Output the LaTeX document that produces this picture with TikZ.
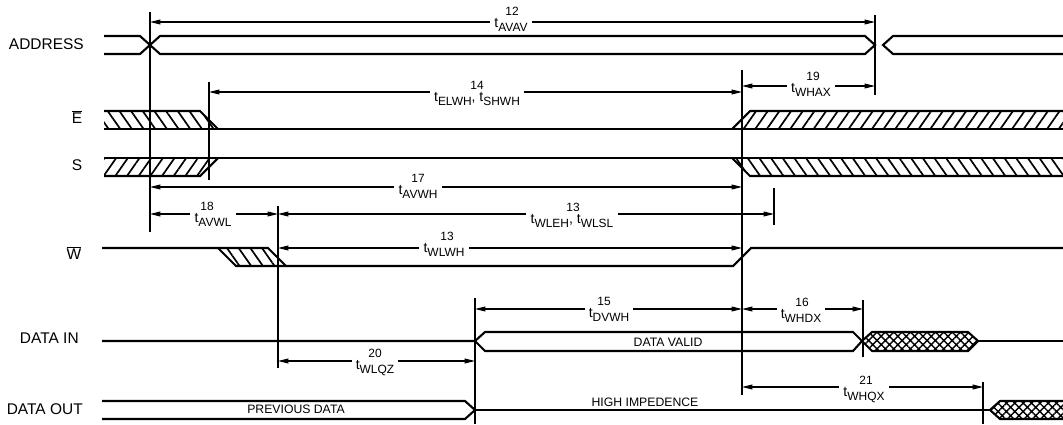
\documentclass[tikz,border=0pt]{standalone}
\usepackage{fontspec}
\setmainfont{Liberation Sans}
\usetikzlibrary{arrows.meta,patterns.meta}
\newcommand{\tsub}[1]{t\raisebox{-3pt}{\fontsize{8.5}{9}\selectfont #1}}
\tikzset{
  sig/.style={line width=1.5pt},
  refl/.style={line width=0.75pt},
  dimarr/.style={<->,>={Triangle[length=2.6mm,width=1.2mm]},line width=0.75pt},
  tlbl/.style={fill=white,inner xsep=3pt,inner ysep=0.5pt,anchor=base,font=\fontsize{10}{11}\selectfont},
  tnum/.style={inner sep=0pt,anchor=base,font=\fontsize{8.5}{9}\selectfont},
  signame/.style={inner sep=0pt,font=\fontsize{11}{12}\selectfont},
  buslbl/.style={inner sep=0pt,font=\fontsize{8.7}{10}\selectfont},
  hatchup/.style={pattern={Lines[angle=55,distance=6.8pt,line width=1.2pt]}},
  hatchdn/.style={pattern={Lines[angle=-55,distance=6.8pt,line width=1.2pt]}},
  xhatch/.style={pattern={Hatch[angle=45,distance=4.2pt,line width=1pt]}}
}

\begin{document}
\begin{tikzpicture}[x=0.025cm,y=-0.025cm]
  \useasboundingbox (0,0) rectangle (1063,424);

  % time instants
  \coordinate (xA)  at (150,0);
  \coordinate (xE)  at (209,0);
  \coordinate (xWL) at (278,0);
  \coordinate (xDV) at (475,0);
  \coordinate (xWH) at (742,0);
  \coordinate (xEH) at (774,0);
  \coordinate (xDX) at (863,0);
  \coordinate (xAX) at (875,0);
  \coordinate (xQX) at (983,0);
  % dimension line levels
  \coordinate (d12) at (0,22);
  \coordinate (d19) at (0,86);
  \coordinate (d14) at (0,92);
  \coordinate (d17) at (0,187);
  \coordinate (d18) at (0,214);
  \coordinate (d13) at (0,248);
  \coordinate (d15) at (0,309);
  \coordinate (d20) at (0,361);
  \coordinate (d21) at (0,387);

  % signal names
  \node[signame,anchor=east] (address) at (84,44) {ADDRESS};
  \node[signame] (ebar) at (77,117) {$\overline{\mbox{E}}$};
  \node[signame] (sel) at (77,165) {S};
  \node[signame] (wbar) at (74,253) {$\overline{\mbox{W}}$};
  \node[signame,anchor=east] (datain) at (79,338) {DATA IN};
  \node[signame,anchor=east] (dataout) at (83,409) {DATA OUT};

  % ADDRESS
  \draw[sig] (104,36) -- (140,36) -- (160,54) -- (865,54) -- (875,45) -- (865,36) -- (160,36) -- (140,54) -- (104,54);
  \draw[sig] (1063,36) -- (893,36) -- (883,45) -- (893,54) -- (1063,54);

  % E bar
  \fill[hatchdn] (104,111) -- (200,111) -- (218,129) -- (104,129) -- cycle;
  \fill[hatchup] (732,129) -- (750,111) -- (1063,111) -- (1063,129) -- cycle;
  \draw[sig] (104,111) -- (200,111) -- (218,129);
  \draw[sig] (104,129) -- (1063,129);
  \draw[sig] (732,129) -- (750,111) -- (1063,111);

  % S
  \fill[hatchup] (104,158) -- (218,158) -- (200,176) -- (104,176) -- cycle;
  \fill[hatchdn] (732,158) -- (1063,158) -- (1063,176) -- (750,176) -- cycle;
  \draw[sig] (104,158) -- (1063,158);
  \draw[sig] (104,176) -- (200,176) -- (218,158);
  \draw[sig] (732,158) -- (750,176) -- (1063,176);

  % W bar
  \fill[hatchdn] (218,248) -- (268,248) -- (286,266) -- (236,266) -- cycle;
  \draw[sig] (102,248) -- (268,248) -- (286,266);
  \draw[sig] (218,248) -- (236,266) -- (733,266) -- (751,248) -- (1063,248);

  % DATA IN
  \draw[sig] (102,341) -- (475,341) -- (485,332) -- (853,332) -- (862,341) -- (853,351) -- (485,351) -- (475,341);
  \draw[sig,xhatch] (862,341) -- (872,332) -- (968,332) -- (978,341) -- (968,351) -- (872,351) -- cycle;
  \draw[sig] (978,341) -- (1063,341);
  \node[buslbl] (valid) at (668,342) {DATA VALID};

  % DATA OUT
  \draw[sig] (102,401) -- (465,401) -- (475,410) -- (465,419) -- (102,419);
  \draw[sig] (475,410) -- (990,410);
  \draw[sig,xhatch] (1063,401) -- (1000,401) -- (990,410) -- (1000,419) -- (1063,419);
  \node[buslbl] (prev) at (296,409) {PREVIOUS DATA};
  \node[buslbl] (hiz) at (645,402) {HIGH IMPEDENCE};

  % reference lines
  \draw[refl] (xA)  ++(0,12)  -- ++(0,220);
  \draw[refl] (xE)  ++(0,82)  -- ++(0,98);
  \draw[refl] (xAX) ++(0,15)  -- ++(0,80);
  \draw[refl] (xWH) ++(0,70)  -- ++(0,325);
  \draw[refl] (xWL) ++(0,206) -- ++(0,162);
  \draw[refl] (xEH) ++(0,188) -- ++(0,37);
  \draw[refl] (xDV) ++(0,298) -- ++(0,126);
  \draw[refl] (xDX) ++(0,300) -- ++(0,57);
  \draw[refl] (xQX) ++(0,382) -- ++(0,42);

  % timing arrows
  \draw[dimarr] (xA |- d12) -- (xAX |- d12);
  \draw[dimarr] (xE |- d14) -- (xWH |- d14);
  \draw[dimarr] (xWH |- d19) -- (xAX |- d19);
  \draw[dimarr] (xA |- d17) -- (xWH |- d17);
  \draw[dimarr] (xA |- d18) -- (xWL |- d18);
  \draw[dimarr] (xWL |- d18) -- (xEH |- d18);
  \draw[dimarr] (xWL |- d13) -- (xWH |- d13);
  \draw[dimarr] (xDV |- d15) -- (xWH |- d15);
  \draw[dimarr] (xWH |- d15) -- (xDX |- d15);
  \draw[dimarr] (xWL |- d20) -- (xDV |- d20);
  \draw[dimarr] (xWH |- d21) -- (xQX |- d21);

  % timing labels
  \node[tlbl] (l12) at (511,27) {\tsub{AVAV}};
  \node[tnum] (n12) at (512,15) {12};
  \node[tlbl] (l14) at (477,101) {\tsub{ELWH}, \tsub{SHWH}};
  \node[tnum] (n14) at (477,89) {14};
  \node[tlbl] (l19) at (811,92) {\tsub{WHAX}};
  \node[tnum] (n19) at (813,80) {19};
  \node[tlbl] (l17) at (418,194) {\tsub{AVWH}};
  \node[tnum] (n17) at (418,182) {17};
  \node[tlbl] (l18) at (213,222) {\tsub{AVWL}};
  \node[tnum] (n18) at (207,210) {18};
  \node[tlbl] (l13a) at (572,223) {\tsub{WLEH}, \tsub{WLSL}};
  \node[tnum] (n13a) at (573,211) {13};
  \node[tlbl] (l13b) at (444,252) {\tsub{WLWH}};
  \node[tnum] (n13b) at (447,240) {13};
  \node[tlbl] (l15) at (609,317) {\tsub{DVWH}};
  \node[tnum] (n15) at (604,305) {15};
  \node[tlbl] (l16) at (801,318) {\tsub{WHDX}};
  \node[tnum] (n16) at (802,306) {16};
  \node[tlbl] (l20) at (375,369) {\tsub{WLQZ}};
  \node[tnum] (n20) at (375,357) {20};
  \node[tlbl] (l21) at (864,396) {\tsub{WHQX}};
  \node[tnum] (n21) at (866,384) {21};
\end{tikzpicture}
\end{document}
